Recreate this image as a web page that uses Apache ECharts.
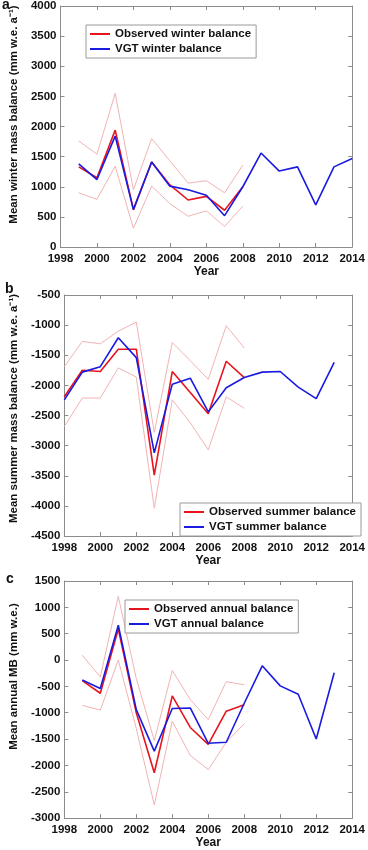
<!DOCTYPE html>
<html>
<head>
<meta charset="utf-8">
<script src="https://cdn.jsdelivr.net/npm/echarts@6/dist/echarts.min.js"></script>
<style>
html,body{margin:0;padding:0;background:#fff;}
#chart{width:368px;height:850px;}
</style>
</head>
<body>
<div id="chart"></div>
<script>
// ---- Panel a: winter balance ----
var yearsObsA = [1999,2000,2001,2002,2003,2004,2005,2006,2007,2008];
var obsWinter = [1330,1150,1940,620,1410,1030,780,840,610,1000];
var obsWinterUpper = [1760,1540,2550,950,1800,1430,1060,1100,900,1360];
var obsWinterLower = [900,790,1340,310,1010,720,510,600,340,680];
var yearsVgtA = [1999,2000,2001,2002,2003,2004,2005,2006,2007,2008,2009,2010,2011,2012,2013,2014];
var vgtWinter = [1380,1120,1840,620,1410,1010,950,860,520,1000,1560,1260,1330,700,1330,1470];

// ---- Panel b: summer balance ----
var yearsObsB = [1998,1999,2000,2001,2002,2003,2004,2005,2006,2007,2008];
var obsSummer = [-2190,-1750,-1770,-1400,-1400,-3490,-1770,-2120,-2470,-1600,-1870];
var obsSummerUpper = [-1690,-1270,-1310,-1100,-950,-2780,-1290,-1590,-1900,-1010,-1380];
var obsSummerLower = [-2680,-2210,-2210,-1710,-1860,-4040,-2240,-2620,-3070,-2190,-2380];
var yearsVgtB = [1998,1999,2000,2001,2002,2003,2004,2005,2006,2007,2008,2009,2010,2011,2012,2013];
var vgtSummer = [-2240,-1780,-1690,-1210,-1540,-3120,-1980,-1880,-2440,-2040,-1870,-1780,-1770,-2030,-2220,-1620];

// ---- Panel c: annual balance ----
var yearsObsC = [1999,2000,2001,2002,2003,2004,2005,2006,2007,2008];
var obsAnnual = [-390,-630,590,-1000,-2140,-680,-1280,-1600,-970,-850];
var obsAnnualUpper = [90,-320,1210,-350,-1530,-200,-750,-1130,-410,-470];
var obsAnnualLower = [-860,-950,0,-1300,-2750,-1160,-1810,-2080,-1560,-1210];
var yearsVgtC = [1999,2000,2001,2002,2003,2004,2005,2006,2007,2008,2009,2010,2011,2012,2013];
var vgtAnnual = [-380,-540,660,-940,-1730,-920,-910,-1580,-1560,-820,-110,-490,-650,-1500,-240];

// axis settings
var xMin = 1998, xMax = 2014, xInterval = 2;
var yRangeA = [0, 4000], yRangeB = [-4500, -500], yRangeC = [-3000, 1500], yInterval = 500;

var FONT = '"Liberation Sans", Arial, sans-serif';
var RED = '#e8141c', BLUE = '#1a1ae0', PINK = '#f2b3b3', AXIS = '#8c8c8c';

function pairs(xs, ys){ return xs.map(function(x,i){ return [x, ys[i]]; }); }
function plain(v){ return String(v); }

var grids = [
  {left:48, right:14, top:5, height:242},
  {left:48, right:14, top:295, height:241},
  {left:48, right:14, top:581, height:241}
];

var xAxes = [], yAxes = [];
var yRanges = [yRangeA, yRangeB, yRangeC];
var yNames = ['Mean winter mass balance (mm w.e. a\u207B\u00B9)', 'Mean summer mass balance (mm w.e. a\u207B\u00B9)', 'Mean annual MB (mm w.e.)'];
var yNamePad = [24, 14, 46];
for (var g=0; g<3; g++){
  xAxes.push({
    type:'value', gridIndex:g, position:'bottom', min:xMin, max:xMax, interval:xInterval,
    axisLine:{show:true, onZero:false, lineStyle:{color:AXIS, width:1}},
    axisTick:{show:true, inside:true, length:4, lineStyle:{color:AXIS}},
    axisLabel:{show:true, color:'#111', fontFamily:FONT, fontWeight:'bold', fontSize:11.5, margin:6, formatter:plain},
    splitLine:{show:false},
    name:'Year', nameLocation:'middle', nameGap:17,
    nameTextStyle:{color:'#111', fontFamily:FONT, fontWeight:'bold', fontSize:12}
  });
  xAxes.push({
    type:'value', gridIndex:g, position:'top', min:xMin, max:xMax, interval:xInterval,
    axisLine:{show:true, onZero:false, lineStyle:{color:AXIS, width:1}},
    axisTick:{show:true, inside:true, length:4, lineStyle:{color:AXIS}},
    axisLabel:{show:false}, splitLine:{show:false}
  });
  yAxes.push({
    type:'value', gridIndex:g, position:'left', min:yRanges[g][0], max:yRanges[g][1], interval:yInterval,
    axisLine:{show:true, onZero:false, lineStyle:{color:AXIS, width:1}},
    axisTick:{show:true, inside:true, length:4, lineStyle:{color:AXIS}},
    axisLabel:{show:true, color:'#111', fontFamily:FONT, fontWeight:'bold', fontSize:11.5, margin:4, formatter:plain},
    splitLine:{show:false},
    name:yNames[g], nameLocation:'middle', nameGap:31, nameRotate:90,
    nameTextStyle:{color:'#111', fontFamily:FONT, fontWeight:'bold', fontSize:11.5, padding:[0,0,0,yNamePad[g]]}
  });
  yAxes.push({
    type:'value', gridIndex:g, position:'right', min:yRanges[g][0], max:yRanges[g][1], interval:yInterval,
    axisLine:{show:true, onZero:false, lineStyle:{color:AXIS, width:1}},
    axisTick:{show:true, inside:true, length:4, lineStyle:{color:AXIS}},
    axisLabel:{show:false}, splitLine:{show:false}
  });
}

function lineSeries(name, g, data, color, width, z){
  return {
    name:name, type:'line', xAxisIndex:2*g, yAxisIndex:2*g, data:data,
    symbol:'none', showSymbol:false, silent:true, animation:false, z:z,
    lineStyle:{color:color, width:width}, itemStyle:{color:color}
  };
}

var series = [
  lineSeries('upperA', 0, pairs(yearsObsA, obsWinterUpper), PINK, 1, 1),
  lineSeries('lowerA', 0, pairs(yearsObsA, obsWinterLower), PINK, 1, 1),
  lineSeries('Observed winter balance', 0, pairs(yearsObsA, obsWinter), RED, 1.6, 2),
  lineSeries('VGT winter balance', 0, pairs(yearsVgtA, vgtWinter), BLUE, 1.6, 3),
  lineSeries('upperB', 1, pairs(yearsObsB, obsSummerUpper), PINK, 1, 1),
  lineSeries('lowerB', 1, pairs(yearsObsB, obsSummerLower), PINK, 1, 1),
  lineSeries('Observed summer balance', 1, pairs(yearsObsB, obsSummer), RED, 1.6, 2),
  lineSeries('VGT summer balance', 1, pairs(yearsVgtB, vgtSummer), BLUE, 1.6, 3),
  lineSeries('upperC', 2, pairs(yearsObsC, obsAnnualUpper), PINK, 1, 1),
  lineSeries('lowerC', 2, pairs(yearsObsC, obsAnnualLower), PINK, 1, 1),
  lineSeries('Observed annual balance', 2, pairs(yearsObsC, obsAnnual), RED, 1.6, 2),
  lineSeries('VGT annual balance', 2, pairs(yearsVgtC, vgtAnnual), BLUE, 1.6, 3)
];

function legend(names, left, top){
  return {
    data:names, left:left, top:top, orient:'vertical', selectedMode:false,
    icon:'rect', itemWidth:20, itemHeight:2, itemGap:3,
    padding:[3,5,3,4], borderColor:'#9a9a9a', borderWidth:1, backgroundColor:'#fff',
    textStyle:{color:'#111', fontFamily:FONT, fontWeight:'bold', fontSize:11.5, padding:[0,0,0,0]}
  };
}

var option = {
  animation:false,
  backgroundColor:'#fff',
  grid:grids,
  xAxis:xAxes,
  yAxis:yAxes,
  series:series,
  legend:[
    legend(['Observed winter balance','VGT winter balance'], 86, 25),
    legend(['Observed summer balance','VGT summer balance'], 180, 503),
    legend(['Observed annual balance','VGT annual balance'], 125, 600)
  ],
  graphic:[
    {type:'text', left:2, top:-2, style:{text:'a', fill:'#111', font:'bold 14px '+FONT}},
    {type:'text', left:5, top:282, style:{text:'b', fill:'#111', font:'bold 14px '+FONT}},
    {type:'text', left:6, top:572, style:{text:'c', fill:'#111', font:'bold 14px '+FONT}}
  ]
};

var chart = echarts.init(document.getElementById('chart'), null, {renderer:'canvas'});
chart.setOption(option);
</script>
</body>
</html>
